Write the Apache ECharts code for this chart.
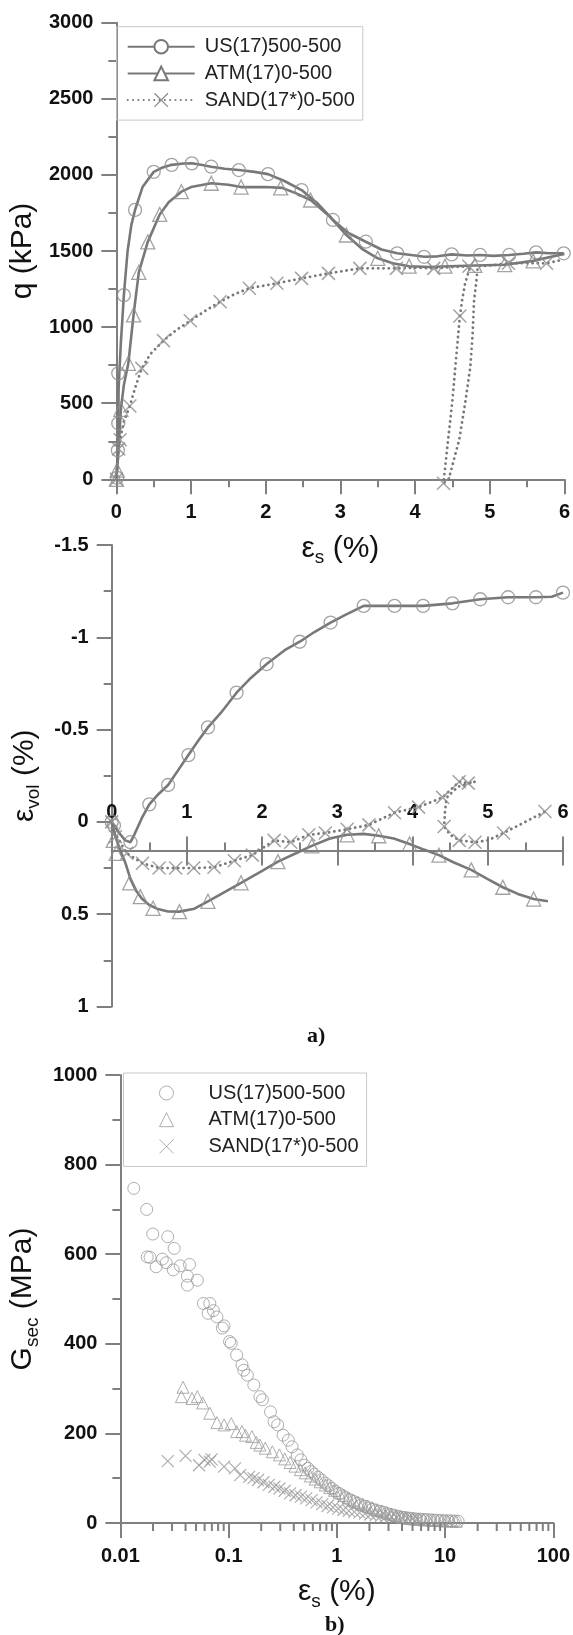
<!DOCTYPE html>
<html>
<head>
<meta charset="utf-8">
<script src="https://cdn.jsdelivr.net/npm/echarts@6/dist/echarts.min.js"></script>
<style>
  html, body { margin: 0; padding: 0; background: #fff; }
  #chart { width: 573px; height: 1635px; }
</style>
</head>
<body>
<div id="chart"></div>
<script>
// ---------- data ----------
const names = ['US(17)500-500', 'ATM(17)0-500', 'SAND(17*)0-500'];

// a) top: deviator stress q (kPa) vs shear strain eps_s (%)
const usQLine = [[0,0],[0.01,100],[0.02,190],[0.025,370],[0.03,600],[0.04,700],[0.06,900],[0.08,1050],[0.1,1210],[0.15,1500],[0.2,1670],[0.25,1770],[0.35,1920],[0.5,2020],[0.6,2045],[0.74,2066],[0.9,2075],[1.01,2076],[1.15,2065],[1.27,2054],[1.45,2040],[1.64,2032],[1.85,2020],[2.03,2005],[2.25,1960],[2.48,1900],[2.7,1810],[2.9,1704],[3.1,1620],[3.34,1561],[3.55,1510],[3.76,1485],[4.0,1470],[4.12,1462],[4.3,1465],[4.49,1478],[4.7,1470],[4.87,1474],[5.05,1468],[5.26,1474],[5.45,1482],[5.62,1491],[5.8,1485],[5.99,1485]];
const usQMarks = [[0.01,10],[0.02,190],[0.025,368],[0.025,696],[0.1,1210],[0.25,1770],[0.5,2020],[0.74,2066],[1.01,2076],[1.27,2054],[1.64,2032],[2.03,2005],[2.48,1900],[2.9,1704],[3.34,1561],[3.76,1485],[4.12,1462],[4.49,1478],[4.87,1474],[5.26,1474],[5.62,1491],[5.99,1485]];

const atmQLine = [[0,0],[0.01,60],[0.03,200],[0.06,460],[0.1,620],[0.16,762],[0.23,1080],[0.3,1360],[0.42,1560],[0.58,1740],[0.7,1820],[0.87,1890],[1.0,1920],[1.27,1945],[1.5,1935],[1.67,1920],[2.0,1920],[2.22,1915],[2.4,1880],[2.6,1835],[2.85,1730],[3.08,1605],[3.3,1510],[3.5,1452],[3.7,1420],[3.92,1400],[4.2,1395],[4.45,1400],[4.8,1405],[5.2,1410],[5.58,1435],[5.9,1470],[6.0,1480]];
const atmQMarks = [[0,0],[0.01,60],[0.06,460],[0.16,762],[0.23,1080],[0.3,1360],[0.42,1560],[0.58,1740],[0.87,1890],[1.27,1945],[1.67,1920],[2.2,1915],[2.6,1835],[3.08,1605],[3.5,1452],[3.92,1400],[4.4,1400],[4.8,1405],[5.2,1410],[5.58,1435]];

const sandQLine = [[0,0],[0.01,80],[0.03,200],[0.05,260],[0.1,380],[0.18,482],[0.25,600],[0.34,729],[0.45,820],[0.63,911],[0.8,980],[0.99,1042],[1.2,1110],[1.39,1167],[1.6,1220],[1.78,1255],[2.15,1288],[2.48,1320],[2.84,1353],[3.26,1386],[3.5,1386],[3.75,1386],[4.0,1390],[4.25,1386],[4.5,1395],[4.74,1400],[4.67,1288],[4.63,1178],[4.6,1073],[4.55,800],[4.5,520],[4.44,250],[4.38,-26],[4.45,0],[4.52,130],[4.59,258],[4.67,500],[4.74,740],[4.77,950],[4.79,1178],[4.82,1300],[4.84,1400],[5.0,1405],[5.25,1419],[5.5,1420],[5.76,1419],[5.96,1441]];
const sandQMarks = [[0,0],[0.03,200],[0.05,260],[0.18,482],[0.34,729],[0.63,911],[0.99,1042],[1.39,1167],[1.78,1255],[2.15,1288],[2.48,1320],[2.84,1353],[3.26,1386],[3.75,1386],[4.25,1386],[4.72,1400],[4.6,1073],[4.38,-26],[5.25,1419],[5.76,1419]];

// a) bottom: volumetric strain eps_vol (%) vs eps_s (%)
const usVLine = [[0,0],[0.05,0.03],[0.1,0.06],[0.18,0.1],[0.25,0.11],[0.3,0.07],[0.4,-0.02],[0.5,-0.095],[0.62,-0.15],[0.75,-0.2],[0.9,-0.29],[1.02,-0.362],[1.15,-0.44],[1.28,-0.512],[1.45,-0.59],[1.66,-0.7],[1.85,-0.78],[2.06,-0.855],[2.3,-0.93],[2.5,-0.976],[2.7,-1.03],[2.91,-1.08],[3.1,-1.12],[3.35,-1.17],[3.76,-1.17],[4.14,-1.17],[4.53,-1.184],[4.9,-1.206],[5.27,-1.217],[5.64,-1.217],[5.85,-1.22],[6.0,-1.242]];
const usVMarks = [[0,0],[0.03,0.02],[0.25,0.11],[0.5,-0.095],[0.75,-0.2],[1.02,-0.362],[1.28,-0.512],[1.66,-0.7],[2.06,-0.855],[2.5,-0.976],[2.91,-1.08],[3.35,-1.17],[3.76,-1.17],[4.14,-1.17],[4.53,-1.184],[4.9,-1.206],[5.27,-1.217],[5.64,-1.217],[6.0,-1.242]];

const atmVLine = [[0,0],[0.05,0.08],[0.1,0.14],[0.18,0.22],[0.25,0.31],[0.32,0.37],[0.4,0.415],[0.5,0.45],[0.6,0.47],[0.75,0.485],[0.9,0.486],[1.1,0.47],[1.28,0.43],[1.5,0.38],[1.72,0.33],[2.0,0.265],[2.21,0.215],[2.45,0.17],[2.66,0.13],[2.9,0.09],[3.13,0.07],[3.35,0.065],[3.55,0.075],[3.75,0.09],[3.96,0.12],[4.15,0.15],[4.35,0.18],[4.55,0.22],[4.78,0.26],[5.0,0.31],[5.2,0.354],[5.4,0.39],[5.61,0.418],[5.8,0.43]];
const atmVMarks = [[0.02,0.1],[0.06,0.17],[0.24,0.33],[0.38,0.405],[0.55,0.468],[0.9,0.486],[1.28,0.43],[1.72,0.33],[2.21,0.215],[2.66,0.13],[3.13,0.07],[3.55,0.075],[3.96,0.12],[4.35,0.18],[4.78,0.26],[5.2,0.354],[5.61,0.418]];

const sandVLine = [[0,0],[0.03,0.05],[0.1,0.1],[0.2,0.17],[0.41,0.224],[0.63,0.25],[0.85,0.25],[1.09,0.25],[1.36,0.246],[1.63,0.21],[1.87,0.18],[2.16,0.1],[2.38,0.11],[2.62,0.07],[2.84,0.06],[3.13,0.04],[3.42,0.016],[3.76,-0.05],[4.08,-0.08],[4.4,-0.133],[4.62,-0.218],[4.74,-0.21],[4.83,-0.218],[4.6,-0.19],[4.45,-0.13],[4.43,-0.05],[4.42,0.025],[4.5,0.07],[4.62,0.1],[4.83,0.11],[5.0,0.1],[5.21,0.06],[5.5,0.0],[5.76,-0.056]];
const sandVMarks = [[0,0],[0.05,0.08],[0.2,0.17],[0.41,0.224],[0.63,0.25],[0.85,0.25],[1.09,0.25],[1.36,0.246],[1.63,0.21],[1.87,0.18],[2.16,0.1],[2.38,0.11],[2.62,0.07],[2.84,0.06],[3.13,0.04],[3.42,0.016],[3.76,-0.05],[4.08,-0.08],[4.4,-0.133],[4.62,-0.218],[4.74,-0.21],[4.42,0.025],[4.62,0.1],[4.83,0.11],[5.21,0.06],[5.76,-0.056]];

// b) secant shear modulus G_sec (MPa) vs eps_s (%), log x
const usG = [[0.0133,747],[0.0175,700],[0.0177,594],[0.0188,593],[0.0199,645],[0.0214,572],[0.0244,589],[0.0265,581],[0.0274,639],[0.0308,565],[0.0314,613],[0.0357,574],[0.0416,551],[0.0416,531],[0.0435,577],[0.0514,542],[0.0585,490],[0.0646,468],[0.067,490],[0.0724,474],[0.078,460],[0.0875,435],[0.0908,440],[0.1019,405],[0.1057,401],[0.1186,375],[0.1329,353],[0.138,341],[0.149,330],[0.171,308],[0.1945,282],[0.205,275],[0.2438,248],[0.263,226],[0.284,219],[0.3185,196],[0.3565,185],[0.3855,170],[0.4308,152],[0.4656,141],[0.5027,129],[0.54,122],[0.58,115],[0.62,109],[0.67,102],[0.72,96],[0.78,89],[0.84,83],[0.9,77],[0.97,71],[1.05,66],[1.13,61],[1.22,56],[1.32,52],[1.43,48],[1.55,44],[1.68,40],[1.82,37],[1.97,34],[2.13,31],[2.3,28],[2.5,26],[2.7,24],[2.92,21],[3.15,19],[3.4,17],[3.7,15],[4.0,13],[4.3,12],[4.65,11],[5.0,10],[5.4,9],[5.85,8.5],[6.3,8],[6.8,7.5],[7.35,7],[7.9,6.5],[8.5,6],[9.2,5.6],[9.9,5.2],[10.7,4.9],[11.5,4.6],[12.4,4.3],[13.2,4]];
const atmG = [[0.0366,282],[0.0379,303],[0.0459,278],[0.0514,282],[0.0576,268],[0.067,245],[0.078,224],[0.0908,219],[0.1057,222],[0.1186,204],[0.1329,204],[0.1432,196],[0.164,193],[0.18,180],[0.1945,174],[0.218,167],[0.2535,159],[0.295,152],[0.33,143],[0.37,135],[0.41,127],[0.46,119],[0.51,112],[0.57,105],[0.63,98],[0.7,92],[0.78,85],[0.86,79],[0.95,73],[1.05,67],[1.16,61],[1.28,56],[1.42,51],[1.57,46],[1.74,42],[1.93,38],[2.13,34],[2.36,30],[2.6,27],[2.88,23],[3.18,20],[3.5,17],[3.87,14],[4.27,12],[4.7,10],[5.2,9],[5.75,8],[6.35,7.3],[7.0,6.7],[7.7,6.1],[8.5,5.6],[9.4,5.1],[10.4,4.7],[11.5,4.3],[12.7,3.9]];
const sandG = [[0.0274,138],[0.04,150],[0.0533,129],[0.0598,141],[0.067,137],[0.0696,142],[0.0908,126],[0.1143,122],[0.128,107],[0.1546,103],[0.17,100],[0.1868,96],[0.21,91],[0.235,85],[0.265,81],[0.295,77],[0.33,72],[0.37,66],[0.415,62],[0.4656,59],[0.52,55],[0.585,51],[0.65,46],[0.733,42],[0.82,38],[0.922,35],[1.03,32],[1.15,29],[1.29,27],[1.45,25],[1.62,23],[1.82,21],[2.04,19],[2.28,17],[2.55,16],[2.86,15],[3.2,13.5],[3.58,12.5],[4.0,11],[4.5,10],[5.0,9],[5.6,8]];

// minor ticks of the log axis (2..9 in each decade)
const logMinorTicks = [];
[0.01, 0.1, 1, 10].forEach(d => { for (let k = 2; k <= 9; k++) logMinorTicks.push([+(d * k).toPrecision(2), 0]); });

// ---------- style ----------
const FONT = '"Liberation Sans", Arial, sans-serif';
const AXIS = '#7f7f7f';
const LINE = '#787878';
const MARK = '#8c8c8c';
const MARK_B = '#9a9a9a';
const CROSS = 'path://M0,0L10,10M10,0L0,10';

const nameRich = {
  m: { fontSize: 30, fontFamily: FONT, color: '#111', lineHeight: 38, verticalAlign: 'middle' },
  sub: { fontSize: 19, fontFamily: FONT, color: '#111', lineHeight: 22, verticalAlign: 'bottom' }
};

function baseAxis(extra) {
  return Object.assign({
    type: 'value',
    axisLine: { show: true, onZero: false, lineStyle: { color: AXIS, width: 2 } },
    axisTick: { show: true, length: 15, lineStyle: { color: AXIS, width: 2 } },
    minorTick: { show: true, splitNumber: 2, length: 8, lineStyle: { color: AXIS, width: 2 } },
    splitLine: { show: false },
    minorSplitLine: { show: false },
    axisLabel: { color: '#111', fontSize: 20, fontWeight: 'bold', fontFamily: FONT, margin: 23, formatter: v => String(v) },
    nameLocation: 'middle',
    nameTextStyle: { rich: nameRich }
  }, extra);
}

function lineSeries(name, data, xi, yi, symbol, dotted) {
  return {
    type: 'line', name, data, xAxisIndex: xi, yAxisIndex: yi,
    symbol, symbolSize: 14, showSymbol: false, clip: false, z: 2,
    lineStyle: dotted ? { color: LINE, width: 2.8, type: [0.1, 5.2], cap: 'round' } : { color: LINE, width: 2.6 },
    itemStyle: { color: LINE, borderColor: MARK, borderWidth: 1.3 },
    emphasis: { disabled: true }, silent: true
  };
}

function markSeries(name, data, xi, yi, symbol, size, color, width) {
  return {
    type: 'scatter', name, data, xAxisIndex: xi, yAxisIndex: yi,
    symbol, symbolSize: size, clip: false, z: 3, symbolKeepAspect: true,
    itemStyle: { color: 'rgba(0,0,0,0)', borderColor: color, borderWidth: width },
    emphasis: { disabled: true }, silent: true
  };
}

// x axis of the volumetric panel sits at eps_vol = 0.155
const VOL_MIN = -1.5, VOL_MAX = 1, VOL_AXIS_AT = 0.155, VOL_H = 461.5;
const volOffset = -(VOL_MAX - VOL_AXIS_AT) / (VOL_MAX - VOL_MIN) * VOL_H;

const chart = echarts.init(document.getElementById('chart'), null, { renderer: 'canvas' });

chart.setOption({
  animation: false,
  backgroundColor: '#fff',
  grid: [
    { left: 114.3, top: 22.7, width: 452.2, height: 456.6 },
    { left: 111.7, top: 545, width: 451.3, height: VOL_H },
    { left: 115, top: 1075, width: 443, height: 448 }
  ],
  xAxis: [
    baseAxis({ gridIndex: 0, position: 'bottom', min: 0, max: 6, interval: 1, name: '{m|ε}{sub|s}{m| (%)}', nameGap: 50 }),
    baseAxis({
      gridIndex: 1, position: 'bottom', min: 0, max: 6, interval: 1, offset: volOffset,
      axisTick: { show: true, inside: true, length: 14, lineStyle: { color: AXIS, width: 2 } },
      axisLabel: { inside: true, color: '#111', fontSize: 20, fontWeight: 'bold', fontFamily: FONT, margin: 28 }
    }),
    baseAxis({
      gridIndex: 1, position: 'bottom', min: 0, max: 6, interval: 1, offset: volOffset,
      axisLine: { show: false, onZero: false },
      axisLabel: { show: false },
      minorTick: { show: false }
    }),
    baseAxis({
      gridIndex: 2, position: 'bottom', type: 'log', logBase: 10, min: 0.01, max: 100,
      minorTick: { show: false },
      axisLabel: { color: '#111', fontSize: 20, fontWeight: 'bold', fontFamily: FONT, margin: 23,
        formatter: v => String(+(+v).toPrecision(2)) },
      name: '{m|ε}{sub|s}{m| (%)}', nameGap: 50
    })
  ],
  yAxis: [
    baseAxis({ gridIndex: 0, min: 0, max: 3000, interval: 500, name: '{m|q (kPa)}', nameGap: 68 }),
    baseAxis({ gridIndex: 1, min: VOL_MIN, max: VOL_MAX, interval: 0.5, inverse: true, name: '{m|ε}{sub|vol}{m| (%)}', nameGap: 58 }),
    baseAxis({ gridIndex: 2, min: 0, max: 1000, interval: 200, name: '{m|G}{sub|sec}{m| (MPa)}', nameGap: 71 })
  ],
  legend: [
    {
      data: names, orient: 'vertical', left: 116.7, top: 26.7,
      itemWidth: 67, itemHeight: 17, itemGap: 6.7, padding: [10, 8, 10, 10],
      borderColor: '#c8c8c8', borderWidth: 1, selectedMode: false,
      itemStyle: { borderWidth: 1.3 },
      textStyle: { fontSize: 20, fontFamily: FONT, color: '#222', lineHeight: 20, padding: [0, 0, 0, 5] }
    },
    {
      data: names.map(n => 'G ' + n), formatter: n => n.slice(2),
      orient: 'vertical', left: 123.5, top: 1073,
      itemWidth: 14, itemHeight: 14, itemGap: 6.7, padding: [10, 8, 10, 35.5],
      borderColor: '#c8c8c8', borderWidth: 1, selectedMode: false,
      itemStyle: { borderWidth: 1 },
      textStyle: { fontSize: 20, fontFamily: FONT, color: '#222', lineHeight: 20, padding: [0, 0, 0, 30] }
    }
  ],
  graphic: [
    { type: 'text', left: 307, top: 1025, style: { text: 'a)', font: 'bold 22px "Liberation Serif", serif', fill: '#111' } },
    { type: 'text', left: 325, top: 1614, style: { text: 'b)', font: 'bold 22px "Liberation Serif", serif', fill: '#111' } }
  ],
  series: [
    // legend icons come from these line series (first with each name)
    lineSeries(names[0], usQLine, 0, 0, 'emptyCircle', false),
    lineSeries(names[1], atmQLine, 0, 0, 'emptyTriangle', false),
    lineSeries(names[2], sandQLine, 0, 0, CROSS, true),
    markSeries(names[0], usQMarks, 0, 0, 'circle', 13, MARK, 1.3),
    markSeries(names[1], atmQMarks, 0, 0, 'triangle', 14, MARK, 1.3),
    markSeries(names[2], sandQMarks, 0, 0, CROSS, 13, MARK, 1.5),

    lineSeries('v1', usVLine, 1, 1, 'emptyCircle', false),
    lineSeries('v2', atmVLine, 1, 1, 'emptyTriangle', false),
    lineSeries('v3', sandVLine, 1, 1, CROSS, true),
    markSeries('v1', usVMarks, 1, 1, 'circle', 13, MARK, 1.3),
    markSeries('v2', atmVMarks, 1, 1, 'triangle', 14, MARK, 1.3),
    markSeries('v3', sandVMarks, 1, 1, CROSS, 13, MARK, 1.5),

    markSeries('G ' + names[0], usG, 3, 2, 'circle', 12, MARK_B, 1),
    markSeries('G ' + names[1], atmG, 3, 2, 'triangle', 12, MARK_B, 1),
    markSeries('G ' + names[2], sandG, 3, 2, CROSS, 12, MARK_B, 1.2),

    {
      type: 'custom', name: 'logMinor', xAxisIndex: 3, yAxisIndex: 2, data: logMinorTicks,
      silent: true, clip: false, z: 5,
      renderItem: (params, api) => {
        const p = api.coord([api.value(0), 0]);
        return { type: 'line', shape: { x1: p[0], y1: p[1], x2: p[0], y2: p[1] + 8 }, style: { stroke: AXIS, lineWidth: 2 } };
      }
    }
  ]
});
</script>
</body>
</html>
